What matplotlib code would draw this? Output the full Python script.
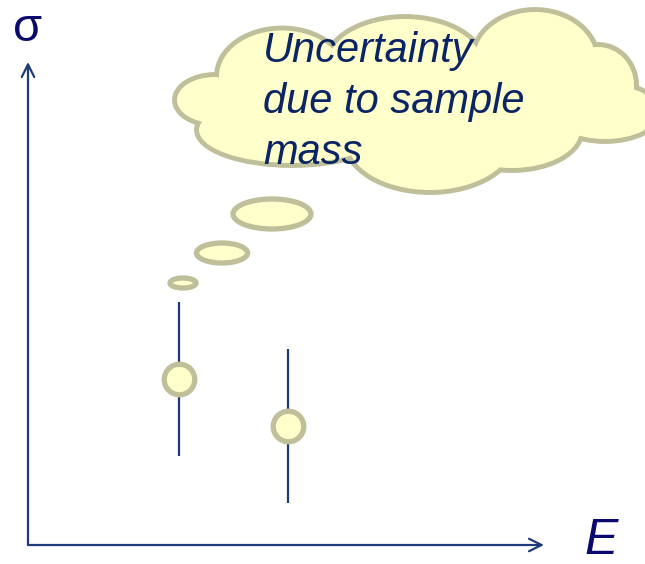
import matplotlib.pyplot as plt
from matplotlib.patches import Ellipse

# two measurements: energy E, sigma, symmetric uncertainty
E = [1.51, 2.60]
sigma = [1.66, 1.19]
sigma_err = [0.77, 0.77]

x_label = 'E'
y_label = '\u03c3'
bubble_text = 'Uncertainty\ndue to sample\nmass'

navy = '#1f3a78'
label_col = '#0a0a6e'
text_col = '#0b2463'
fill_col = '#ffffcc'
edge_col = '#bfbf99'

fig = plt.figure(figsize=(6.45, 5.64), dpi=100)
ax = fig.add_axes([0, 0, 1, 1])
ax.set_xlim(-0.28, 6.17)
ax.set_ylim(-0.19, 5.45)
ax.axis('off')

# axes arrows
arrow = dict(arrowstyle='->,head_length=0.9,head_width=0.45', color=navy, lw=1.6,
             shrinkA=0, shrinkB=0)
ax.annotate('', xy=(5.16, 0), xytext=(0, 0), arrowprops=arrow)
ax.annotate('', xy=(0, 4.83), xytext=(0, 0), arrowprops=arrow)
ax.text(0.0, 5.16, y_label, fontsize=34, color=label_col, family='Liberation Sans',
        ha='center', va='center')
ax.text(5.73, 0.04, x_label, fontsize=36, color=label_col, family='Liberation Sans',
        style='italic', ha='center', va='center')

# data points with error bars
ax.errorbar(E, sigma, yerr=sigma_err, fmt='o', color=navy, elinewidth=1.6, capsize=0,
            ms=22, mfc=fill_col, mec=edge_col, mew=3.8, zorder=3)

# thought bubble, drawn on a pixel-space overlay
deco = fig.add_axes([0, 0, 1, 1], facecolor='none')
deco.set_xlim(0, 645)
deco.set_ylim(564, 0)
deco.axis('off')

for cx, cy, w, h in [(183, 283, 26, 10), (222, 253, 51, 20), (272, 214, 78, 30)]:
    deco.add_patch(Ellipse((cx, cy), w, h, fc=fill_col, ec=edge_col, lw=3.8))

lobes = [(215, 100, 80, 50), (282, 76, 130, 95), (405, 66, 160, 98), (535, 60, 125, 100),
         (598, 85, 76, 80), (605, 112, 110, 58), (512, 130, 140, 80), (430, 140, 170, 104),
         (292, 130, 190, 70), (400, 100, 300, 120)]
for cx, cy, w, h in lobes:
    deco.add_patch(Ellipse((cx, cy), w, h, fc=fill_col, ec=edge_col, lw=4.2))
for cx, cy, w, h in lobes:
    deco.add_patch(Ellipse((cx, cy), w - 4, h - 4, fc=fill_col, ec='none'))

deco.text(263, 102, bubble_text, fontsize=30, color=text_col, family='Liberation Sans',
          style='italic', ha='left', va='center', linespacing=1.37)

fig.savefig('out.png', dpi=100)
